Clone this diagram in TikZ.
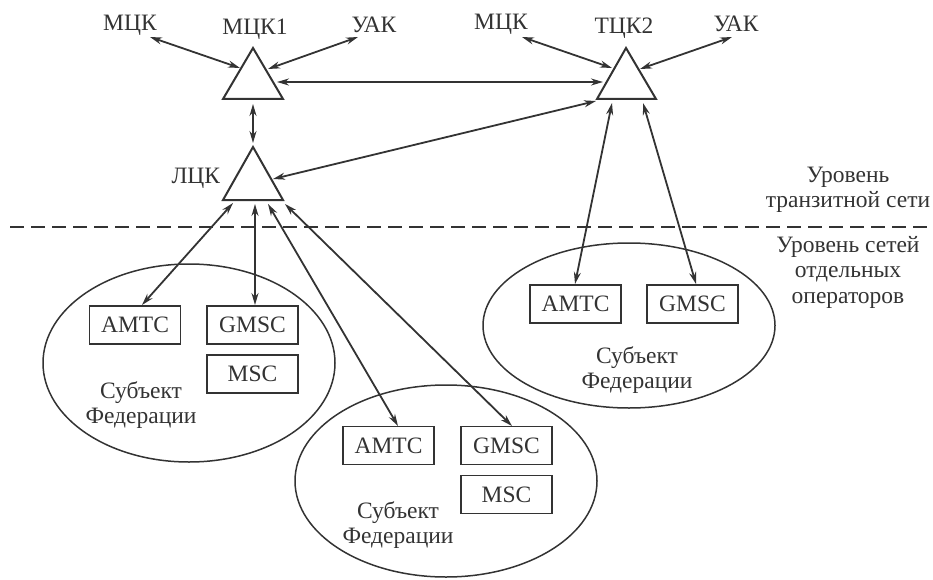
\documentclass[tikz,border=0pt]{standalone}
\usepackage{fontspec}
\setmainfont{Liberation Serif}
\usetikzlibrary{arrows.meta,shapes.geometric}
\begin{document}
\begin{tikzpicture}[x=1pt,y=-1pt,
  line width=1.8pt, draw=black!80, text=black!80,
  lbl/.style={font=\fontsize{23.5}{25.5}\selectfont, inner sep=0pt, align=center},
  box/.style={draw, line width=1.8pt, minimum width=91pt, minimum height=38pt, inner sep=0pt, font=\fontsize{23.5}{25.5}\selectfont},
  oval/.style={draw, ellipse, line width=1.5pt, inner sep=0pt},
  conn/.style={{Stealth[length=12pt,width=7pt]}-{Stealth[length=12pt,width=7pt]}, line width=1.8pt}]
\useasboundingbox (0,0) rectangle (933,580);

% triangles
\draw[line width=2pt] (253,48) -- (223,99) -- (283,99) -- cycle;
\draw[line width=2pt] (626,48) -- (597,99) -- (656,99) -- cycle;
\draw[line width=2pt] (253,147) -- (223,200) -- (283,200) -- cycle;

% labels top
\node[lbl] (mck1) at (130,25) {МЦК};
\node[lbl] (m1) at (255,29) {МЦК1};
\node[lbl] (uak1) at (374,25) {УАК};
\node[lbl] (mck2) at (501,24) {МЦК};
\node[lbl] (t2) at (624,28) {ТЦК2};
\node[lbl] (uak2) at (736,24) {УАК};
\node[lbl, anchor=east] (l) at (221,178) {ЛЦК};

% level labels
\node[lbl] (lev1) at (848,190) {Уровень\\транзитной сети};
\node[lbl] (lev2) at (848,272) {Уровень сетей\\отдельных\\операторов};

% dashed separator
\coordinate (dl) at (10,227);
\coordinate (dr) at (933,227);
\draw[dashed, dash pattern=on 14pt off 7pt, line width=1.3pt] (dl) -- (dr);

% ellipses
\node[oval, minimum width=292pt, minimum height=198pt] (e1) at (189,363) {};
\node[oval, minimum width=302pt, minimum height=192pt] (e2) at (446,481) {};
\node[oval, minimum width=292pt, minimum height=165pt] (e3) at (629,325.5) {};

% boxes left
\node[box] (a1) at (135,325) {AMTC};
\node[box] (g1) at (252.5,325) {GMSC};
\node[box] (s1) at (252.5,374) {MSC};
\node[lbl] (f1) at (141,405) {Субъект\\Федерации};

% boxes bottom
\node[box] (a2) at (388.5,445.5) {AMTC};
\node[box] (g2) at (506.5,445.5) {GMSC};
\node[box] (s2) at (506.5,494.5) {MSC};
\node[lbl] (f2) at (398,525) {Субъект\\Федерации};

% boxes right
\node[box] (a3) at (575.5,304) {AMTC};
\node[box] (g3) at (692.5,304) {GMSC};
\node[lbl] (f3) at (637,370) {Субъект\\Федерации};

% connector endpoints
\coordinate (p1a) at (150,37);  \coordinate (p1b) at (240,68);
\coordinate (p2a) at (358,37);  \coordinate (p2b) at (268,69);
\coordinate (p3a) at (277,82);  \coordinate (p3b) at (603,82);
\coordinate (p4a) at (522,37);  \coordinate (p4b) at (612,68);
\coordinate (p5a) at (732,37);  \coordinate (p5b) at (640,69);
\coordinate (p6a) at (253,104); \coordinate (p6b) at (253,143);
\coordinate (p7a) at (273,179); \coordinate (p7b) at (596,101);
\coordinate (p8a) at (612,103); \coordinate (p8b) at (575,284);
\coordinate (p9a) at (643,103); \coordinate (p9b) at (696,284);
\coordinate (q1a) at (233,203); \coordinate (q1b) at (142,305);
\coordinate (q2a) at (255,204); \coordinate (q2b) at (255,305);
\coordinate (q3a) at (268,204); \coordinate (q3b) at (398,426);
\coordinate (q4a) at (285,204); \coordinate (q4b) at (512,426);

\draw[conn] (p1a) -- (p1b);
\draw[conn] (p2a) -- (p2b);
\draw[conn] (p3a) -- (p3b);
\draw[conn] (p4a) -- (p4b);
\draw[conn] (p5a) -- (p5b);
\draw[conn] (p6a) -- (p6b);
\draw[conn] (p7a) -- (p7b);
\draw[conn] (p8a) -- (p8b);
\draw[conn] (p9a) -- (p9b);
\draw[conn] (q1a) -- (q1b);
\draw[conn] (q2a) -- (q2b);
\draw[conn] (q3a) -- (q3b);
\draw[conn] (q4a) -- (q4b);
\end{tikzpicture}
\end{document}
